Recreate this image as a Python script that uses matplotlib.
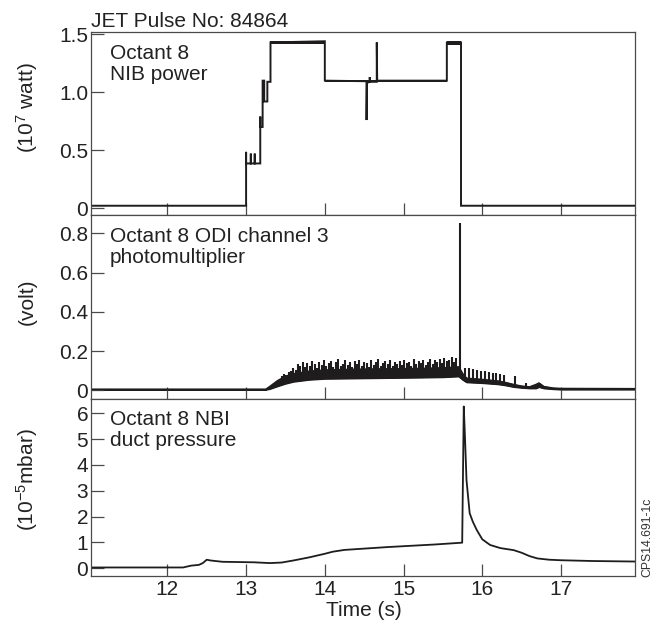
import numpy as np
import matplotlib
matplotlib.use("Agg")
import matplotlib.pyplot as plt

plt.rcParams['font.family'] = ['Liberation Sans', 'DejaVu Sans']
plt.rcParams['mathtext.fontset'] = 'custom'
plt.rcParams['mathtext.rm'] = 'Liberation Sans'
plt.rcParams['mathtext.it'] = 'Liberation Sans:italic'
plt.rcParams['mathtext.bf'] = 'Liberation Sans:bold'
plt.rcParams['axes.unicode_minus'] = True

# ---------------- data ----------------
title = "JET Pulse No: 84864"
x_ticks = [12, 13, 14, 15, 16, 17]
x_lim = (11.03, 17.94)

# Panel 1: NIB power (10^7 W)
nib_t = [11.03, 13.00, 13.00, 13.00, 13.06, 13.06, 13.06, 13.11, 13.11, 13.11, 13.18, 13.18, 13.18,
         13.21, 13.21, 13.23, 13.23, 13.27, 13.27, 13.31, 13.31, 14.00, 14.00, 14.53, 14.53, 14.535,
         14.57, 14.57, 14.575, 14.66, 14.66, 14.665, 15.00, 15.55, 15.55, 15.73, 15.73, 17.94]
nib_v = [0.02, 0.02, 0.485, 0.385, 0.385, 0.47, 0.385, 0.385, 0.47, 0.385, 0.385, 0.79, 0.70,
         0.70, 1.10, 1.10, 0.92, 0.92, 1.09, 1.09, 1.43, 1.44, 1.10, 1.095, 0.76, 1.08,
         1.09, 1.13, 1.09, 1.09, 1.43, 1.10, 1.10, 1.10, 1.43, 1.43, 0.02, 0.02]
# noisy (thick) plateaus: start, end, low, high
nib_band_t0 = [13.31, 14.00, 15.55]
nib_band_t1 = [14.00, 15.55, 15.73]
nib_band_lo = [1.415, 1.087, 1.41]
nib_band_hi = [1.445, 1.108, 1.445]

# Panel 2: ODI channel 3 photomultiplier (volt) - band envelope
odi_t = [11.03, 13.25, 13.30, 13.40, 13.50, 13.60, 13.80, 14.00, 14.40, 14.80, 15.20, 15.50, 15.70,
         15.75, 15.80, 16.00, 16.20, 16.30, 16.40, 16.50, 16.60, 16.68, 16.72, 16.78, 16.90, 17.00, 17.94]
odi_lo = [0.004, 0.004, 0.008, 0.022, 0.035, 0.045, 0.055, 0.060, 0.062, 0.064, 0.066, 0.068, 0.072,
          0.055, 0.042, 0.038, 0.032, 0.026, 0.018, 0.014, 0.011, 0.011, 0.018, 0.011, 0.007, 0.005, 0.005]
odi_hi = [0.006, 0.006, 0.020, 0.050, 0.072, 0.085, 0.098, 0.104, 0.108, 0.110, 0.112, 0.115, 0.120,
          0.085, 0.062, 0.056, 0.048, 0.040, 0.030, 0.022, 0.018, 0.030, 0.038, 0.020, 0.012, 0.010, 0.009]
odi_spike_t = [13.45, 13.48, 13.51, 13.54, 13.57, 13.60, 13.63, 13.66, 13.69, 13.72,
               13.75, 13.78, 13.81, 13.84, 13.87, 13.90, 13.93, 13.96, 13.99, 14.02,
               14.05, 14.08, 14.11, 14.14, 14.17, 14.20, 14.23, 14.26, 14.29, 14.32,
               14.35, 14.38, 14.41, 14.44, 14.47, 14.50, 14.53, 14.56, 14.59, 14.62,
               14.65, 14.68, 14.71, 14.74, 14.77, 14.80, 14.83, 14.86, 14.89, 14.92,
               14.95, 14.98, 15.01, 15.04, 15.07, 15.10, 15.13, 15.16, 15.19, 15.22,
               15.25, 15.28, 15.31, 15.34, 15.37, 15.40, 15.43, 15.46, 15.49, 15.52,
               15.55, 15.58, 15.61, 15.64, 15.67,
               15.715,
               15.78, 15.83, 15.88, 15.93, 15.98, 16.03, 16.08, 16.13, 16.18, 16.23, 16.28,
               16.42, 16.56]
odi_spike_v = [0.075, 0.085, 0.08, 0.095, 0.10, 0.115, 0.105, 0.135, 0.125, 0.145,
               0.12, 0.14, 0.125, 0.15, 0.135, 0.115, 0.145, 0.13, 0.155, 0.125,
               0.14, 0.15, 0.12, 0.145, 0.16, 0.125, 0.135, 0.155, 0.13, 0.145,
               0.12, 0.15, 0.135, 0.155, 0.125, 0.145, 0.14, 0.12, 0.155, 0.13,
               0.145, 0.16, 0.125, 0.14, 0.15, 0.135, 0.155, 0.125, 0.145, 0.135,
               0.15, 0.13, 0.155, 0.14, 0.145, 0.125, 0.16, 0.135, 0.15, 0.14,
               0.155, 0.13, 0.145, 0.16, 0.135, 0.155, 0.145, 0.16, 0.14, 0.165,
               0.15, 0.155, 0.17, 0.145, 0.165,
               0.852,
               0.114, 0.112, 0.108, 0.105, 0.10, 0.097, 0.094, 0.09, 0.086, 0.082, 0.078,
               0.075, 0.036]

# Panel 3: NBI duct pressure (10^-5 mbar)
p_t = [11.03, 12.20, 12.30, 12.40, 12.45, 12.50, 12.55, 12.70, 12.90, 13.10, 13.30, 13.45, 13.60,
       13.80, 14.00, 14.10, 14.25, 14.50, 14.80, 15.10, 15.40, 15.745, 15.765, 15.78, 15.80, 15.84,
       15.88, 15.93, 16.00, 16.10, 16.23, 16.40, 16.50, 16.60, 16.70, 16.85, 17.00, 17.40, 17.94]
p_v = [0.03, 0.03, 0.10, 0.13, 0.20, 0.33, 0.30, 0.25, 0.24, 0.23, 0.20, 0.22, 0.30,
       0.42, 0.56, 0.64, 0.71, 0.76, 0.82, 0.87, 0.92, 0.99, 6.26, 5.10, 3.40, 2.13,
       1.80, 1.48, 1.12, 0.90, 0.78, 0.70, 0.60, 0.47, 0.38, 0.33, 0.31, 0.28, 0.26]

panel_texts = ["Octant 8\nNIB power", "Octant 8 ODI channel 3\nphotomultiplier", "Octant 8 NBI\nduct pressure"]
y_labels = ["(10$^7$ watt)", "(volt)", "(10$^{-5}$mbar)"]
y_ticks = [[0, 0.5, 1.0, 1.5], [0, 0.2, 0.4, 0.6, 0.8], [0, 1, 2, 3, 4, 5, 6]]
y_ticklabels = [["0", "0.5", "1.0", "1.5"], ["0", "0.2", "0.4", "0.6", "0.8"],
                ["0", "1", "2", "3", "4", "5", "6"]]
y_lims = [(-0.06, 1.52), (-0.044, 0.894), (-0.30, 6.55)]
x_label = "Time (s)"
stamp = "CPS14.691-1c"

# ---------------- figure ----------------
W, H = 656, 628
fig = plt.figure(figsize=(W / 100, H / 100), dpi=100)
line_c = '#1e1c1d'
frame_c = '#4a4a4a'
txt_c = '#222222'
FS = 15

def fx(px):
    return px / W

def fy(py):
    return 1 - py / H

boxes = [(32, 215), (215, 399), (399, 576)]
text_tops = [44, 227, 410]
axes = []
for i, (top, bot) in enumerate(boxes):
    ax = fig.add_axes([fx(91), fy(bot), fx(635) - fx(91), (bot - top) / H])
    axes.append(ax)
    ax.set_xlim(*x_lim)
    ax.set_ylim(*y_lims[i])
    ax.set_xticks(x_ticks)
    ax.set_yticks(y_ticks[i])
    ax.set_yticklabels(y_ticklabels[i])
    ax.tick_params(axis='both', direction='in', length=9, width=0.9, color=frame_c,
                   labelsize=FS, labelcolor=txt_c, pad=2)
    ax.tick_params(axis='x', pad=3)
    if i < 2:
        ax.tick_params(axis='x', labelbottom=False)
    for s in ax.spines.values():
        s.set_color(frame_c)
        s.set_linewidth(0.9)
    ax.text((110 - 91) / 544, 1 - (text_tops[i] - top) / (bot - top), panel_texts[i],
            transform=ax.transAxes, fontsize=FS, color=txt_c, va='top', ha='left',
            linespacing=1.12)

# Panel 1
ax1 = axes[0]
ax1.plot(nib_t, nib_v, color=line_c, lw=1.4, solid_joinstyle='miter')
for t0, t1, lo, hi in zip(nib_band_t0, nib_band_t1, nib_band_lo, nib_band_hi):
    ax1.fill_between([t0, t1], [lo, lo], [hi, hi], color=line_c, lw=0)

# Panel 2
ax2 = axes[1]
ax2.fill_between(odi_t, odi_lo, odi_hi, color=line_c, lw=1.0, edgecolor=line_c)
ax2.plot(odi_t, odi_lo, color=line_c, lw=1.0)
ax2.plot(odi_t, odi_hi, color=line_c, lw=1.0)
base = np.interp(odi_spike_t, odi_t, odi_lo)
ax2.vlines(odi_spike_t, base, odi_spike_v, color=line_c, lw=1.5)

# Panel 3
ax3 = axes[2]
ax3.plot(p_t, p_v, color=line_c, lw=1.3)
ax3.set_xticklabels([str(v) for v in x_ticks])

# labels
fig.text(fx(91), fy(27), title, fontsize=FS, color=txt_c, ha='left', va='baseline')
label_y = [108, 302, 480]
for lab, ly in zip(y_labels, label_y):
    fig.text(fx(27), fy(ly), lab, fontsize=FS, rotation=90, ha='center', va='center', color=txt_c)
fig.text(fx(364), fy(616), x_label, fontsize=FS, ha='center', va='baseline', color=txt_c)
fig.text(fx(647), fy(537), stamp, fontsize=8.8, rotation=90, ha='center', va='center', color='#333333')

fig.savefig("out.png", dpi=100)
